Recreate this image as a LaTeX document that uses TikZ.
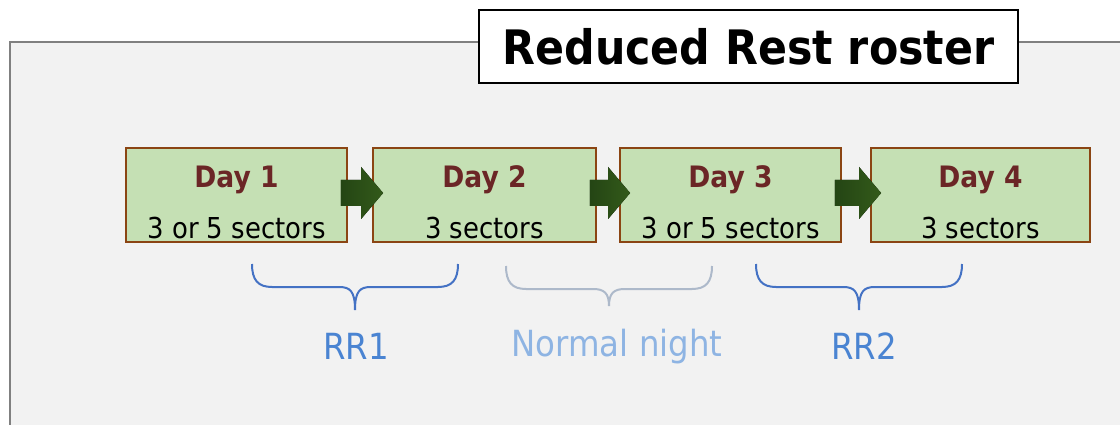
\documentclass[tikz,border=0pt]{standalone}
\usepackage{fontspec}
\setmainfont{DejaVu Sans}[FakeStretch=0.9]
\usetikzlibrary{calc}
\definecolor{panelfill}{HTML}{F2F2F2}
\definecolor{panelline}{HTML}{808080}
\definecolor{boxfill}{HTML}{C5E0B4}
\definecolor{boxline}{HTML}{8B4513}
\definecolor{daycol}{HTML}{6B2626}
\definecolor{arrowdark}{HTML}{244514}
\definecolor{arrowlight}{HTML}{335A1A}
\definecolor{rrblue}{HTML}{4472C4}
\definecolor{rrtext}{HTML}{4A84D2}
\definecolor{nngray}{HTML}{ADB9CA}
\definecolor{nntext}{HTML}{8EB4E3}
\tikzset{
  daybox/.style={draw=boxline, line width=1.8pt, fill=boxfill, minimum width=221pt, minimum height=94pt, inner sep=0pt},
  daytxt/.style={anchor=base, text=daycol, font=\fontsize{29.5}{32}\selectfont\bfseries, inner sep=0pt},
  sectxt/.style={anchor=base, text=black, font=\fontsize{28.8}{32}\selectfont, inner sep=0pt},
  blockarrow/.style={left color=arrowdark, right color=arrowlight, draw=none},
  bracelabel/.style={anchor=base, font=\fontsize{36}{40}\selectfont, inner sep=0pt},
  pics/mybrace/.style args={#1/#2}{code={
    \draw[line width=2pt, #2] (-103,0) .. controls (-103,16) and (-97,23) .. (-83,23) -- (-16,23)
      .. controls (-5,23) and (0,27) .. (0,#1)
      .. controls (0,27) and (5,23) .. (16,23) -- (83,23)
      .. controls (97,23) and (103,16) .. (103,0);
  }}
}
\begin{document}
\begin{tikzpicture}[x=1pt, y=-1pt]
\useasboundingbox (0,0) rectangle (1120,425);
% panel
\fill[panelfill] (10,42) rectangle (1125,430);
\draw[panelline, line width=1.5pt] (10,430) -- (10,42) -- (1125,42);
% title
\node[draw=black, line width=1.8pt, fill=white, minimum width=539pt, minimum height=73pt, inner sep=0pt,
      font=\fontsize{47.5}{50}\selectfont\bfseries] (title) at (748.5,46.5) {Reduced Rest roster};
% day boxes
\node[daybox] (d1) at (236.5,195) {};
\node[daybox, minimum width=223pt] (d2) at (484.5,195) {};
\node[daybox] (d3) at (730.5,195) {};
\node[daybox, minimum width=219pt] (d4) at (980.5,195) {};
\foreach \i/\s in {1/3 or 5 sectors,2/3 sectors,3/3 or 5 sectors,4/3 sectors}{
  \node[daytxt] (day\i) at (d\i.center |- 0,188) {Day \i};
  \node[sectxt] (sec\i) at (d\i.center |- 0,239) {\s};
}
% block arrows
\foreach \a/\b in {d1/d2,d2/d3,d3/d4}{
  \path let \p1=(\a.east), \p2=(\b.west) in
    coordinate (s) at (\x1-7pt,193)
    coordinate (t) at (\x2+11pt,193);
  \fill[blockarrow] let \p1=(s), \p2=(t) in
    (\x1,180) -- (\x2-22pt,180) -- (\x2-22pt,167) -- (\x2,193) -- (\x2-22pt,219) -- (\x2-22pt,206) -- (\x1,206) -- cycle;
}
% braces
\pic at (355,264) {mybrace={46}/rrblue};
\pic at (609,266) {mybrace={40}/nngray};
\pic at (859,264) {mybrace={46}/rrblue};
\node[bracelabel, text=rrtext] (rr1) at (356,359) {RR1};
\node[bracelabel, text=nntext] (nn) at (617,356) {Normal night};
\node[bracelabel, text=rrtext] (rr2) at (864,359) {RR2};
\end{tikzpicture}
\end{document}
